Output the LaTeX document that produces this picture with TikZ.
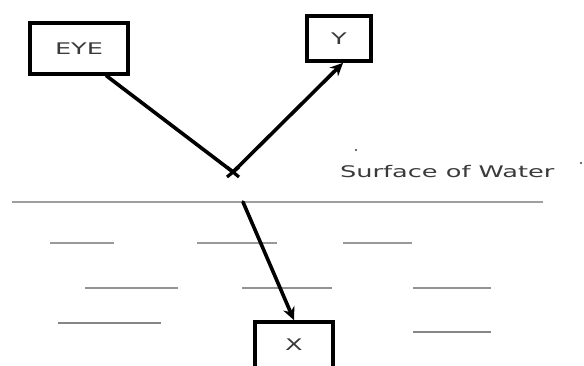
\documentclass[tikz,border=0pt]{standalone}
\usepackage{fontspec}
\usepackage{graphicx}
\setmainfont{DejaVu Sans}
\usetikzlibrary{arrows.meta,calc}
\definecolor{txt}{HTML}{3A3A3A}
\tikzset{
  lbl/.style={draw=black, line width=3.6pt, fill=white, inner sep=0pt, text=txt, font=\fontsize{16}{18}\selectfont},
  ray/.style={line width=3.6pt, line cap=round},
  rayarrow/.style={ray, -{Stealth[length=13pt,width=12pt]}},
  wave/.style={line width=2.6pt, color=gray!80},
}
\newcommand{\wide}[1]{\scalebox{1.6}[1]{#1}}
\begin{document}
\begin{tikzpicture}[x=1pt,y=-1pt]
\useasboundingbox (0,0) rectangle (584,365);
% surface and water lines
\draw[line width=2.4pt, color=gray!75] (12,202) -- (543,202);
\draw[wave] (50,243) -- (114,243);
\draw[wave] (197,243) -- (277,243);
\draw[wave] (343,243) -- (412,243);
\draw[wave, color=gray!85] (85,288) -- (178,288);
\draw[wave, color=gray!85] (242,288) -- (332,288);
\draw[wave, color=gray!85] (413,288) -- (491,288);
\draw[wave, color=gray!95] (58,323) -- (161,323);
\draw[wave, color=gray!95] (413,332) -- (491,332);
% boxes
\node[lbl, minimum width=98pt, minimum height=51pt] (EYE) at (79,48.5) {\wide{EYE}};
\node[lbl, minimum width=64pt, minimum height=45pt] (Y) at (339,38.5) {\wide{Y}};
\node[lbl, minimum width=78pt, minimum height=46pt] (X) at (294,345) {\wide{X}};
% points
\coordinate (J) at (233,172);
\coordinate (S) at (243,202);
% rays
\draw[ray] ($(EYE.south west)!0.77!(EYE.south east)$) -- (J);
\draw[rayarrow] (J) -- ($(Y.south west)!0.56!(Y.south east)$);
\draw[rayarrow] (S) -- (X.north);
\draw[line width=3.2pt] (227,167) -- (239,177) (227,177) -- (239,167);
% label
\node[text=txt, font=\fontsize{16}{18}\selectfont, anchor=base west, inner sep=0pt] (SW) at (340,177) {\wide{Surface of Water}};
\fill[txt] (356,150) circle (1.2pt);
\fill[txt] (581,163) circle (1.2pt);
\end{tikzpicture}
\end{document}
